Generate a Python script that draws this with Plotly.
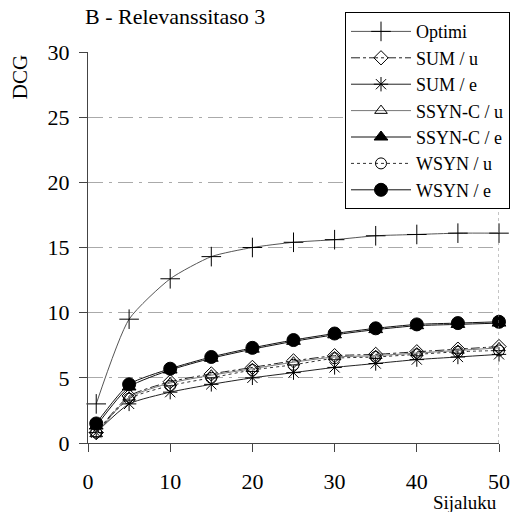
import plotly.graph_objects as go

ranks = [1, 5, 10, 15, 20, 25, 30, 35, 40, 45, 50]
optimi = [3.0, 9.5, 12.6, 14.3, 15.0, 15.4, 15.6, 15.9, 16.0, 16.1, 16.1]
sum_u = [0.8, 3.6, 4.7, 5.3, 5.8, 6.3, 6.7, 6.8, 7.0, 7.2, 7.4]
sum_e = [0.8, 3.0, 3.9, 4.5, 5.0, 5.4, 5.8, 6.1, 6.4, 6.6, 6.8]
ssync_u = [0.7, 3.5, 4.6, 5.2, 5.7, 6.2, 6.6, 6.7, 6.9, 7.1, 7.3]
ssync_e = [1.3, 4.3, 5.6, 6.5, 7.2, 7.8, 8.3, 8.7, 9.0, 9.1, 9.2]
wsyn_u = [0.8, 3.4, 4.4, 5.0, 5.6, 6.0, 6.5, 6.6, 6.8, 7.0, 7.1]
wsyn_e = [1.5, 4.5, 5.7, 6.6, 7.3, 7.9, 8.4, 8.8, 9.1, 9.2, 9.3]
y_ticks = [0, 5, 10, 15, 20, 25, 30]
x_ticks = [0, 10, 20, 30, 40, 50]

series = [
    ("Optimi", optimi, "cross-thin-open", 14, "#555555", "solid"),
    ("SUM / u", sum_u, "diamond-open", 11, "#222222", "dashdot"),
    ("SUM / e", sum_e, "asterisk-open", 12, "#222222", "solid"),
    ("SSYN-C / u", ssync_u, "triangle-up-open", 11, "#777777", "solid"),
    ("SSYN-C / e", ssync_e, "triangle-up", 12, "#111111", "solid"),
    ("WSYN / u", wsyn_u, "circle-open", 11, "#333333", "dot"),
    ("WSYN / e", wsyn_e, "circle", 13, "#111111", "solid"),
]

fig = go.Figure()
for name, vals, sym, size, col, dash in series:
    fig.add_trace(go.Scatter(
        x=ranks, y=vals, name=name, mode="lines+markers",
        line=dict(color=col, width=1, dash=dash, shape="spline", smoothing=0.6),
        marker=dict(symbol=sym, size=size, color="black",
                    line=dict(color="black", width=1)),
        cliponaxis=False,
    ))

font = "Liberation Serif, Times New Roman, serif"
fig.update_layout(
    width=527, height=512,
    margin=dict(l=88, r=28, t=50, b=69),
    paper_bgcolor="white", plot_bgcolor="white",
    font=dict(family=font, size=20, color="black"),
    title=dict(text="B - Relevanssitaso 3", x=85/527, xanchor="left",
               y=1 - 16/512, yanchor="middle", font=dict(size=22)),
    legend=dict(x=(345 - 88) / 411, y=(443 - 10) / 393, xanchor="left", yanchor="top",
                bordercolor="black", borderwidth=1, bgcolor="white",
                font=dict(size=18), itemwidth=60, tracegroupgap=0),
    xaxis=dict(range=[0, 50], tickvals=x_ticks, showgrid=False,
               showline=True, linecolor="#444444", linewidth=1,
               ticks="outside", ticklen=8, tickcolor="#444444",
               ticklabelstandoff=11,
               zeroline=False, tickfont=dict(size=22)),
    yaxis=dict(range=[0, 30], tickvals=y_ticks, showgrid=True,
               gridcolor="#aaaaaa", griddash="longdashdot", gridwidth=1,
               showline=True, linecolor="#444444", linewidth=1,
               ticks="outside", ticklen=8, tickcolor="#444444",
               ticklabelstandoff=5,
               zeroline=False, tickfont=dict(size=22)),
    annotations=[
        dict(text="Sijaluku", xref="paper", yref="paper", x=1.0,
             y=-(503 - 443) / 393,
             xanchor="right", yanchor="middle", showarrow=False,
             font=dict(size=19)),
        dict(text="DCG", xref="paper", yref="paper", x=-0.165, y=0.936,
             xanchor="center", yanchor="middle",
             textangle=-90, showarrow=False, font=dict(size=21)),
    ],
    showlegend=True,
)
fig.add_shape(type="line", xref="x", yref="paper", x0=50, x1=50, y0=0, y1=1,
              line=dict(color="#888888", width=1, dash="dot"))
fig.write_html("out.html", config={"displayModeBar": False},
               post_script="document.body.style.margin='0';")
